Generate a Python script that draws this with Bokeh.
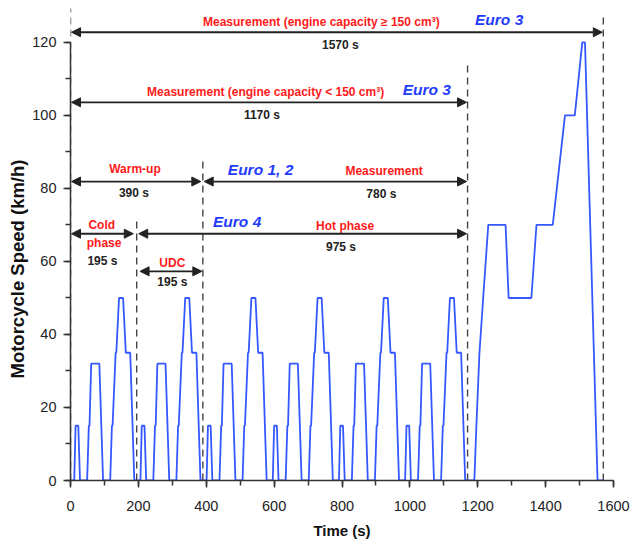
from bokeh.plotting import figure
from bokeh.models import Arrow, NormalHead, SingleIntervalTicker, Title
from bokeh.core.properties import value
from bokeh.embed import file_html
from bokeh.resources import INLINE

# ---- data ----
# one urban driving cycle (UDC), 195 s long: time (s) and speed (km/h)
udc_t = [0, 11, 15, 23, 28, 49, 54, 56, 61, 85, 96, 117, 122, 124, 133, 135, 143, 155, 163, 176, 188, 195]
udc_v = [0, 0, 15, 15, 0, 0, 15, 15, 32, 32, 0, 0, 15, 15, 35, 35, 50, 50, 35, 35, 0, 0]
udc_starts = [0, 195, 390, 585, 780, 975]
# extra-urban part
eudc_t = [1190, 1196, 1205, 1216, 1231, 1282, 1291, 1358, 1373, 1421, 1457, 1486, 1508, 1516, 1553, 1570]
eudc_v = [0, 15, 35, 50, 70, 70, 50, 50, 70, 70, 100, 100, 120, 120, 0, 0]

# phase boundaries (s)
bound_t = [0, 195, 390, 1170, 1570]
bound_top = [129.5, 72, 88, 114.5, 127.5]

# arrows: start (s), end (s), level (km/h)
arrow_x0 = [3, 3, 3, 394, 3, 201, 205]
arrow_x1 = [1567, 1167, 384, 1167, 185, 1167, 387]
arrow_y = [122.8, 103.6, 81.9, 81.9, 67.6, 67.6, 57.3]

red_text = ["Measurement (engine capacity \u2265 150 cm\u00b3)",
            "Measurement (engine capacity < 150 cm\u00b3)",
            "Warm-up", "Measurement", "Cold", "phase", "Hot phase", "UDC"]
red_x = [739, 575, 190, 924, 92, 99, 809, 300]
red_y = [125.6, 106.4, 85.2, 84.9, 69.9, 65.1, 69.7, 59.5]

black_text = ["1570 s", "1170 s", "390 s", "780 s", "195 s", "975 s", "195 s"]
black_x = [795, 564, 187, 916, 94, 797, 300]
black_y = [119.2, 100.0, 78.8, 78.5, 60.1, 64.1, 54.3]

blue_text = ["Euro 3", "Euro 3", "Euro 1, 2", "Euro 4"]
blue_x = [1263, 1050, 560, 491]
blue_y = [126.2, 107.0, 85.1, 71.0]

# ---- build series ----
t, v = [], []
for s in udc_starts:
    for a, b in zip(udc_t, udc_v):
        t.append(s + a)
        v.append(b)
t += eudc_t
v += eudc_v

FONT = "Liberation Sans"

p = figure(frame_width=543, frame_height=472, x_range=(0, 1600), y_range=(0, 129.3),
           output_backend="svg", toolbar_location=None,
           min_border_left=70, min_border_right=27, min_border_top=8, min_border_bottom=63)
p.background_fill_color = "white"
p.border_fill_color = "white"
p.outline_line_color = None
p.xgrid.visible = False
p.ygrid.visible = False

# dashed phase boundaries
p.segment(x0=bound_t, y0=[0] * len(bound_t), x1=bound_t, y1=bound_top,
          line_color="#444444", line_width=1.4, line_dash="7 5")

# speed trace
p.line(t, v, line_color="#3358ff", line_width=1.8)

# arrows
for x0, x1, y in zip(arrow_x0, arrow_x1, arrow_y):
    p.add_layout(Arrow(x_start=x0, y_start=y, x_end=x1, y_end=y,
                       line_color="#222222", line_width=1.8,
                       start=NormalHead(size=9, fill_color="#222222", line_color="#222222"),
                       end=NormalHead(size=9, fill_color="#222222", line_color="#222222")))

p.text(x=red_x, y=red_y, text=red_text, text_color="#ff1a1a", text_font=value(FONT),
       text_font_style="bold", text_font_size="12px", text_align="center", text_baseline="middle")
p.text(x=black_x, y=black_y, text=black_text, text_color="#222222", text_font=value(FONT),
       text_font_style="bold", text_font_size="12px", text_align="center", text_baseline="middle")
p.text(x=blue_x, y=blue_y, text=blue_text, text_color="#1f3dff", text_font=value(FONT),
       text_font_style="bold italic", text_font_size="15.5px", text_align="center", text_baseline="middle")

# axes
for ax, iv, b in ((p.xaxis, 200, (0, 1600)), (p.yaxis, 20, (0, 120))):
    ax.ticker = SingleIntervalTicker(interval=iv, num_minor_ticks=2)
    ax.bounds = b
    ax.axis_line_color = "#333333"
    ax.axis_line_width = 1.5
    ax.major_tick_line_color = "#333333"
    ax.minor_tick_line_color = "#333333"
    ax.major_tick_line_width = 1.5
    ax.minor_tick_line_width = 1.5
    ax.major_tick_in = 0
    ax.minor_tick_in = 0
    ax.major_tick_out = 7
    ax.minor_tick_out = 5
    ax.major_label_text_font = FONT
    ax.major_label_text_font_size = "14.5px"
    ax.major_label_text_color = "#222222"

p.xaxis.major_label_standoff = 13
p.yaxis.major_label_standoff = 7
p.xaxis.axis_label = "Time (s)"
p.xaxis.axis_label_text_font = FONT
p.xaxis.axis_label_text_font_style = "bold"
p.xaxis.axis_label_text_font_size = "15px"
p.xaxis.axis_label_text_color = "#111111"
p.xaxis.axis_label_standoff = 8

p.add_layout(Title(text="Motorcycle Speed (km/h)", align="left", offset=102,
                   text_font=FONT, text_font_style="bold", text_font_size="18.5px",
                   text_color="#111111", standoff=3), "left")

open("out.html", "w").write(file_html(p, INLINE))
